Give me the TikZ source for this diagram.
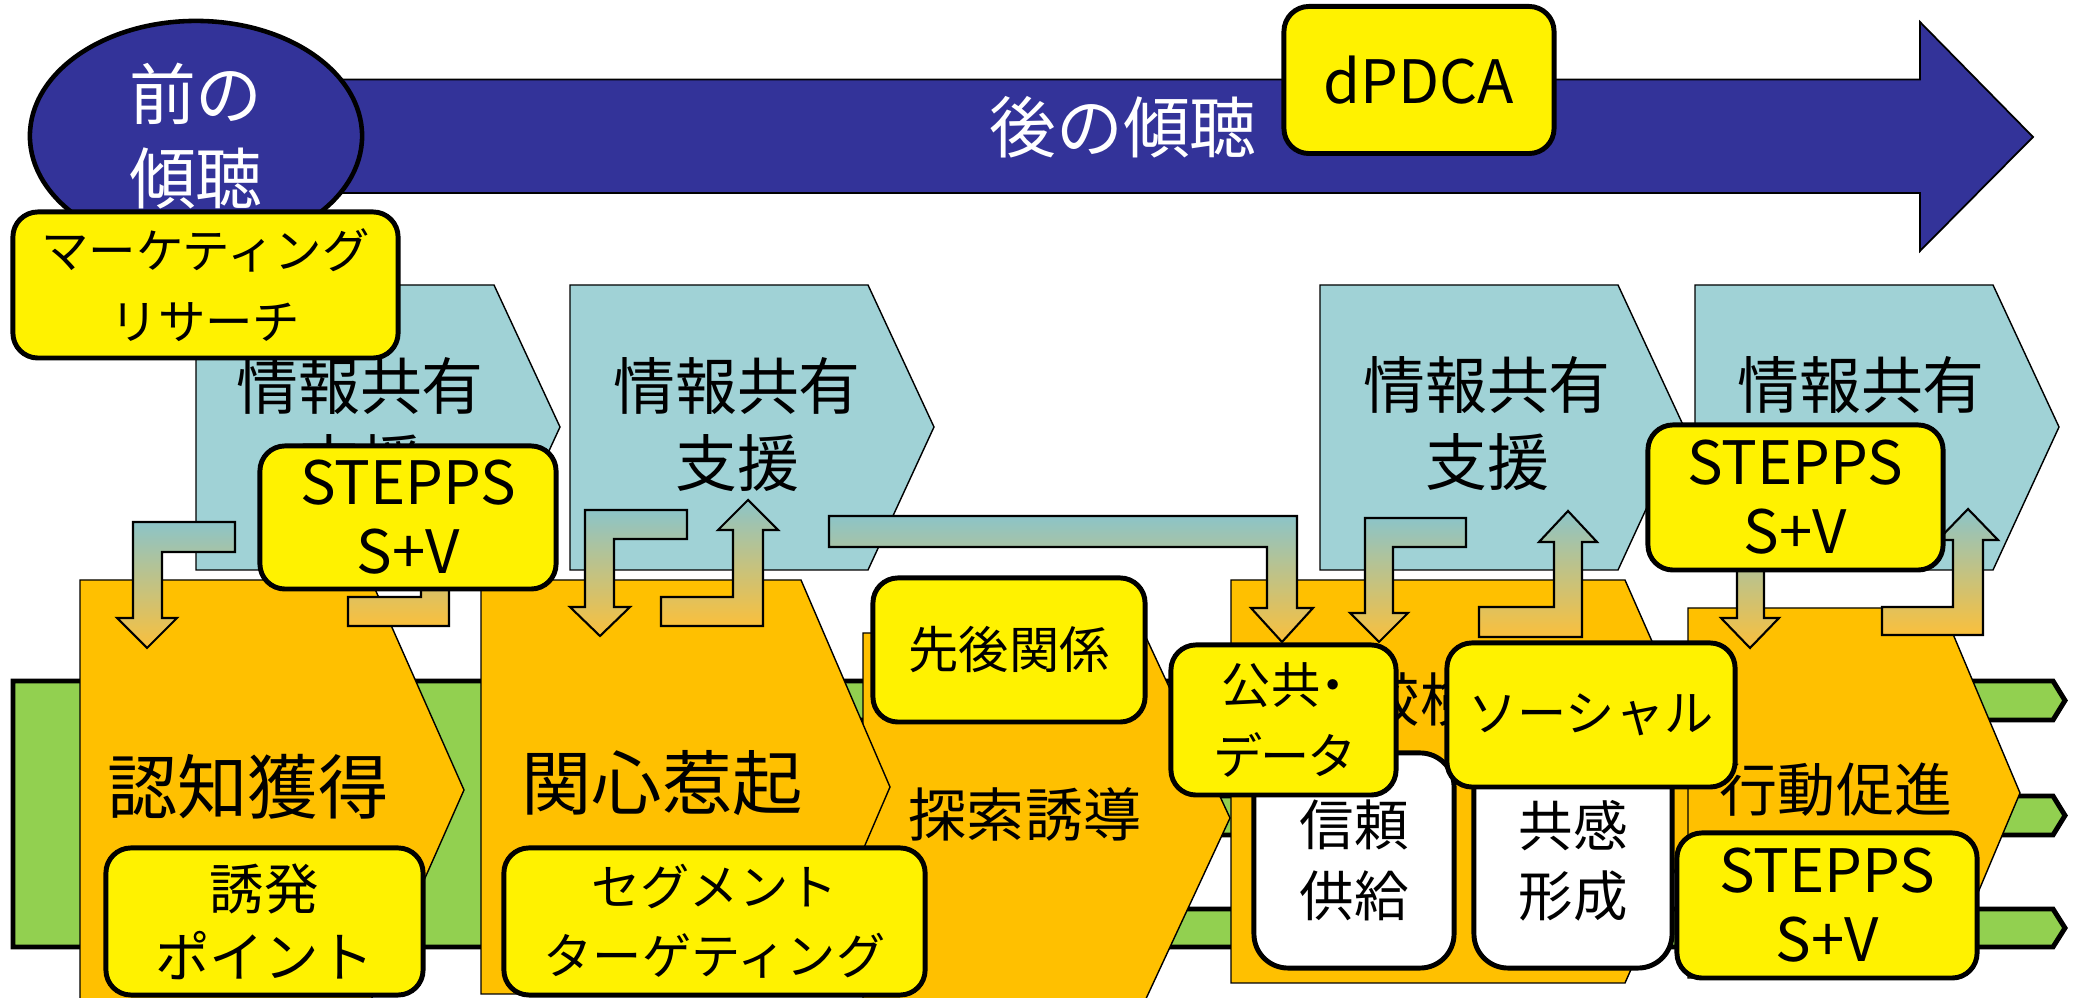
\documentclass[tikz,border=0pt]{standalone}
\usepackage{fontspec}
\setmainfont{Noto Sans CJK JP}
\usetikzlibrary{shapes.geometric}

\definecolor{deepnavy}{RGB}{51,51,153}
\definecolor{infoteal}{RGB}{160,210,214}
\definecolor{stageorange}{RGB}{255,192,0}
\definecolor{trackgreen}{RGB}{146,208,80}
\definecolor{flowtop}{RGB}{140,196,200}
\definecolor{flowbottom}{RGB}{250,192,60}

\begin{document}
\begin{tikzpicture}[
    x=0.01cm, y=-0.01cm,
    every node/.style={inner sep=0pt},
    navyarrow/.style={draw=black, line width=0.5pt, fill=deepnavy},
    infoshape/.style={draw=black, line width=0.4pt, fill=infoteal},
    stageshape/.style={draw=black, line width=0.4pt, fill=stageorange},
    greentrack/.style={draw=black, line width=1.4pt, fill=trackgreen},
    flowarrow/.style={draw=black, line width=0.6pt, top color=flowtop, bottom color=flowbottom},
    ybox/.style={rectangle, draw, line width=1.4pt, fill=yellow, rounded corners=0.25cm, align=center, font=\fontsize{14}{19.5}\selectfont},
    wbox/.style={rectangle, draw, line width=1.4pt, fill=white, rounded corners=0.34cm, align=center, font=\fontsize{15.5}{20}\selectfont},
    steppsfont/.style={font=\fontsize{17}{19.6}\selectfont},
    navytext/.style={text=white, align=center, font=\fontsize{19}{24}\selectfont},
    infotext/.style={align=center, font=\fontsize{17.6}{21.9}\selectfont},
    stagetext/.style={align=center, font=\fontsize{20}{24}\selectfont},
    stagesmall/.style={align=center, font=\fontsize{16.5}{20}\selectfont}
]
    \useasboundingbox (0,0) rectangle (2075,998);

    % Listening timeline
    \draw[navyarrow] (330,79.6) -- (1920,79.6) -- (1920,22) -- (2033,137) -- (1920,251) -- (1920,193) -- (330,193) -- cycle;
    \node[navytext] (post) at (1123,127) {後の傾聴};
    \node[ellipse, draw, line width=1.3pt, fill=deepnavy, minimum width=3.32cm, minimum height=2.3cm, navytext] (pre) at (196,136) {前の\\傾聴};

    % Info sharing stages
    \draw[infoshape] (196,285) -- (494,285) -- (560,427) -- (494,570) -- (196,570) -- cycle;
    \node[infotext] (share1) at (360,425) {情報共有\\支援};
    \draw[infoshape] (570,285) -- (868,285) -- (934,427) -- (868,570) -- (570,570) -- cycle;
    \node[infotext] (share2) at (737,425) {情報共有\\支援};
    \draw[infoshape] (1320,285) -- (1618,285) -- (1684,427) -- (1618,570) -- (1320,570) -- cycle;
    \node[infotext] (share3) at (1487,424) {情報共有\\支援};
    \draw[infoshape] (1695,285) -- (1993,285) -- (2059,427) -- (1993,570) -- (1695,570) -- cycle;
    \node[infotext] (share4) at (1861,424) {情報共有\\支援};

    % Green track
    \draw[greentrack] (13,681) -- (2053,681) -- (2065,700.5) -- (2053,720) -- (700,720) -- (700,796) -- (2053,796) -- (2065,815.5) -- (2053,835) -- (700,835) -- (700,909) -- (2053,909) -- (2065,928) -- (2053,947) -- (13,947) -- cycle;

    % Customer stages
    \draw[stageshape] (80,580) -- (371,580) -- (464,790) -- (371,1000) -- (80,1000) -- cycle;
    \node[stagetext] (aware) at (248,787) {認知獲得};
    \draw[stageshape] (863,633) -- (1144,633) -- (1230,818) -- (1144,1003) -- (863,1003) -- cycle;
    \node[stagesmall] (search) at (1025,814) {探索誘導};
    \draw[stageshape] (481,580) -- (801,580) -- (890,787) -- (801,994) -- (481,994) -- cycle;
    \node[stagetext] (interest) at (662,783) {関心惹起};
    \draw[stageshape] (1231,580) -- (1625,580) -- (1714,782) -- (1625,983) -- (1231,983) -- cycle;
    \node[stagesmall] (compare) at (1420,700) {比較検討};
    \draw[stageshape] (1688,608) -- (1942,608) -- (2020,793) -- (1942,978) -- (1688,978) -- cycle;
    \node[stagesmall] (action) at (1836,790) {行動促進};

    % Flow arrows
    \draw[flowarrow] (133,522) -- (235,522) -- (235,552) -- (162,552) -- (162,618) -- (177,618) -- (147,648) -- (117,618) -- (133,618) -- cycle;
    \draw[flowarrow] (348,597) -- (348,626) -- (449,626) -- (449,530) -- (464,530) -- (435,500) -- (406,530) -- (421,530) -- (421,597) -- cycle;
    \draw[flowarrow] (585,510) -- (687,510) -- (687,539) -- (614,539) -- (614,607) -- (630,607) -- (600,636) -- (570,607) -- (585,607) -- cycle;
    \draw[flowarrow] (661,597) -- (661,626) -- (763,626) -- (763,530) -- (778,530) -- (748,500) -- (718,530) -- (733,530) -- (733,597) -- cycle;
    \draw[flowarrow] (829,516) -- (1297,516) -- (1297,608) -- (1313,608) -- (1282,642) -- (1251,608) -- (1267,608) -- (1267,547) -- (829,547) -- cycle;
    \draw[flowarrow] (1365,518) -- (1466,518) -- (1466,547) -- (1393,547) -- (1393,613) -- (1408,613) -- (1379,642) -- (1350,613) -- (1365,613) -- cycle;
    \draw[flowarrow] (1479,607) -- (1479,637) -- (1582,637) -- (1582,542) -- (1597,542) -- (1568,511) -- (1539,542) -- (1554,542) -- (1554,607) -- cycle;
    \draw[flowarrow] (1737,520) -- (1840,520) -- (1840,549) -- (1764,549) -- (1764,618) -- (1779,618) -- (1750,648) -- (1721,618) -- (1737,618) -- cycle;
    \draw[flowarrow] (1882,607) -- (1882,635) -- (1983,635) -- (1983,540) -- (1998,540) -- (1968,509) -- (1938,540) -- (1953,540) -- (1953,607) -- cycle;

    % Comparison boxes
    \node[wbox, minimum width=2.0cm, minimum height=2.15cm] (trust) at (1354,860.5) {信頼\\供給};
    \node[wbox, minimum width=1.98cm, minimum height=2.15cm] (empathy) at (1573,860.5) {共感\\形成};

    % Method boxes
    \node[ybox, steppsfont, minimum width=2.70cm, minimum height=1.47cm] (pdca) at (1419,80) {dPDCA};
    \node[ybox, minimum width=3.85cm, minimum height=1.46cm, font=\fontsize{13.5}{20}\selectfont] (research) at (205.5,285) {マーケティング\\リサーチ};
    \node[ybox, steppsfont, minimum width=2.96cm, minimum height=1.43cm] (stepps1) at (408,517.5) {STEPPS\\S+V};
    \node[ybox, minimum width=2.72cm, minimum height=1.44cm, font=\fontsize{14.3}{19}\selectfont] (order) at (1009,650) {先後関係};
    \node[ybox, minimum width=3.17cm, minimum height=1.47cm, font=\fontsize{15.5}{19.3}\selectfont] (trigger) at (264.5,921.5) {誘発\\ポイント};
    \node[ybox, minimum width=4.21cm, minimum height=1.47cm] (segment) at (714.5,921.5) {セグメント\\ターゲティング};
    \node[ybox, minimum width=2.25cm, minimum height=1.50cm, font=\fontsize{14}{20}\selectfont\addfontfeature{RawFeature=+palt}] (opendata) at (1283.5,720) {公共・\\データ};
    \node[ybox, minimum width=2.88cm, minimum height=1.44cm] (social) at (1591,715) {ソーシャル};
    \node[ybox, steppsfont, minimum width=2.95cm, minimum height=1.45cm] (stepps2) at (1795.5,497.5) {STEPPS\\S+V};
    \node[ybox, steppsfont, minimum width=3.0cm, minimum height=1.45cm] (stepps3) at (1827,905.5) {STEPPS\\S+V};
\end{tikzpicture}
\end{document}
